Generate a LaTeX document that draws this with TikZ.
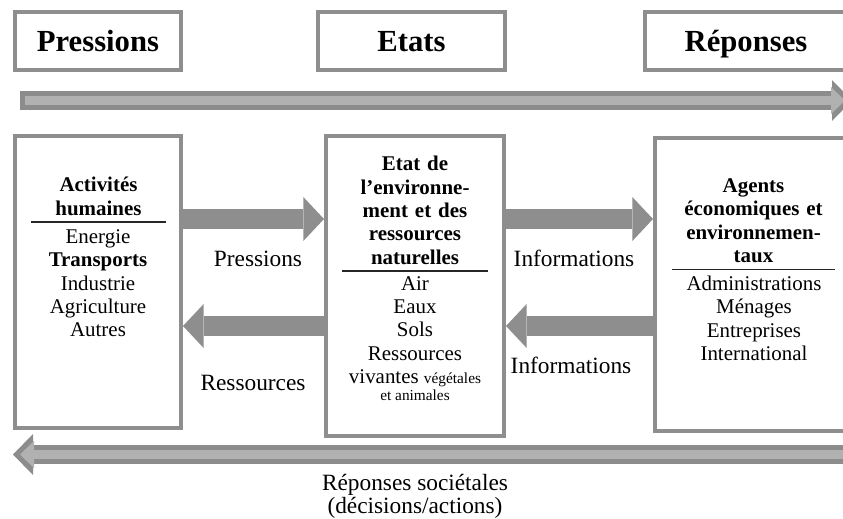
\documentclass[tikz,border=0pt]{standalone}
\usepackage{fontspec}
\setmainfont{Liberation Serif}
\usetikzlibrary{arrows.meta, positioning}

\definecolor{framegray}{HTML}{8E8E8E}
\definecolor{shaftgray}{HTML}{8C8C8C}
\definecolor{shaftlight}{HTML}{B1B1B1}

\begin{document}
\begin{tikzpicture}[
  x=0.75pt, y=-0.75pt,
  headbox/.style={rectangle, draw=framegray, line width=3pt, inner sep=0pt, minimum height=43.5pt, text height=16pt, text depth=0pt, font=\fontsize{23}{23}\selectfont\bfseries},
  bigbox/.style={rectangle, draw=framegray, line width=3pt, inner sep=0pt},
  boxtitle/.style={anchor=south, inner xsep=0pt, inner ysep=5pt, outer sep=0pt, align=center, font=\fontsize{15.7}{17.5}\selectfont\bfseries},
  boxlist/.style={anchor=north, inner sep=0pt, align=center, font=\fontsize{15.7}{17.5}\selectfont},
  flowlabel/.style={anchor=base, inner sep=0pt, font=\fontsize{17.5}{17.5}\selectfont},
  sepline/.style={line width=1.2pt, black!85},
  fatarrow/.style={framegray, line width=15.5pt, -{Triangle[length=15.5pt, width=33pt, line width=0pt]}},
  longout/.style={shaftgray, line width=14.25pt, -{Triangle[length=15pt, width=30.75pt, line width=0pt]}},
  longin/.style={shaftlight, line width=7pt, shorten <=3.75pt, shorten >=5.25pt, -{Triangle[length=10.5pt, width=20.25pt, line width=0pt]}}
]
\useasboundingbox (0,0) rectangle (843,518);

\node[headbox, minimum width=124.5pt] (pres) at (98,41) {Pressions};
\node[headbox, minimum width=140.25pt] (etats) at (411.5,41) {Etats};
\node[headbox, minimum width=151.5pt] (rep) at (746,41) {Réponses};

\coordinate (topstart) at (20,100.5);
\coordinate (topend) at (852,100.5);
\draw[longout] (topstart) -- (topend);
\draw[longin] (topstart) -- (topend);

\node[bigbox, minimum width=124.5pt, minimum height=219pt] (hum) at (98,282) {};
\node[bigbox, minimum width=133.5pt, minimum height=225pt] (etat) at (415,286) {};
\node[bigbox, minimum width=148.5pt, minimum height=219.75pt] (agents) at (754,284.5) {};

\node[boxtitle, text width=101.25pt] (humtitle) at (98.5,222) {Activités\\humaines};
\node[boxtitle, text width=109.5pt] (etattitle) at (415,271) {Etat de\\l’environne-\\ment et des\\ressources\\naturelles};
\node[boxtitle, text width=122.25pt] (agentstitle) at (753.5,269.5) {Agents\\économiques et\\environnemen-\\taux};

\draw[sepline] (humtitle.south west) -- (humtitle.south east);
\draw[sepline] (etattitle.south west) -- (etattitle.south east);
\draw[sepline] (agentstitle.south west) -- (agentstitle.south east);

\node[boxlist] (humlist) at (98,229.5) {Energie\\\textbf{Transports}\\Industrie\\Agriculture\\Autres};
\node[boxlist] (etatlist) at (415,276) {Air\\Eaux\\Sols\\Ressources\\vivantes {\fontsize{11.5}{13}\selectfont végétales}\\[-4.5pt]{\fontsize{11.5}{13}\selectfont et animales}};
\node[boxlist] (agentslist) at (754,275.8) {Administrations\\Ménages\\Entreprises\\International};

\draw[fatarrow] (hum.east |- 0,219) -- (etat.west |- 0,219);
\draw[fatarrow] (etat.west |- 0,326) -- (hum.east |- 0,326);
\draw[fatarrow] (etat.east |- 0,219) -- (agents.west |- 0,219);
\draw[fatarrow] (agents.west |- 0,326) -- (etat.east |- 0,326);

\node[flowlabel] (lblpres) at (258,266.7) {Pressions};
\node[flowlabel] (lblres) at (253,390) {Ressources};
\node[flowlabel] (lblinfo) at (574,266.7) {Informations};
\node[flowlabel] (lblinfob) at (571,373.3) {Informations};

\coordinate (botstart) at (860,454.5);
\coordinate (botend) at (13,454.5);
\draw[longout] (botstart) -- (botend);
\draw[longin] (botstart) -- (botend);

\node[anchor=north, inner sep=0pt, align=center, font=\fontsize{17.5}{17}\selectfont] (lblrep) at (415,474) {Réponses sociétales\\(décisions/actions)};

\end{tikzpicture}
\end{document}
